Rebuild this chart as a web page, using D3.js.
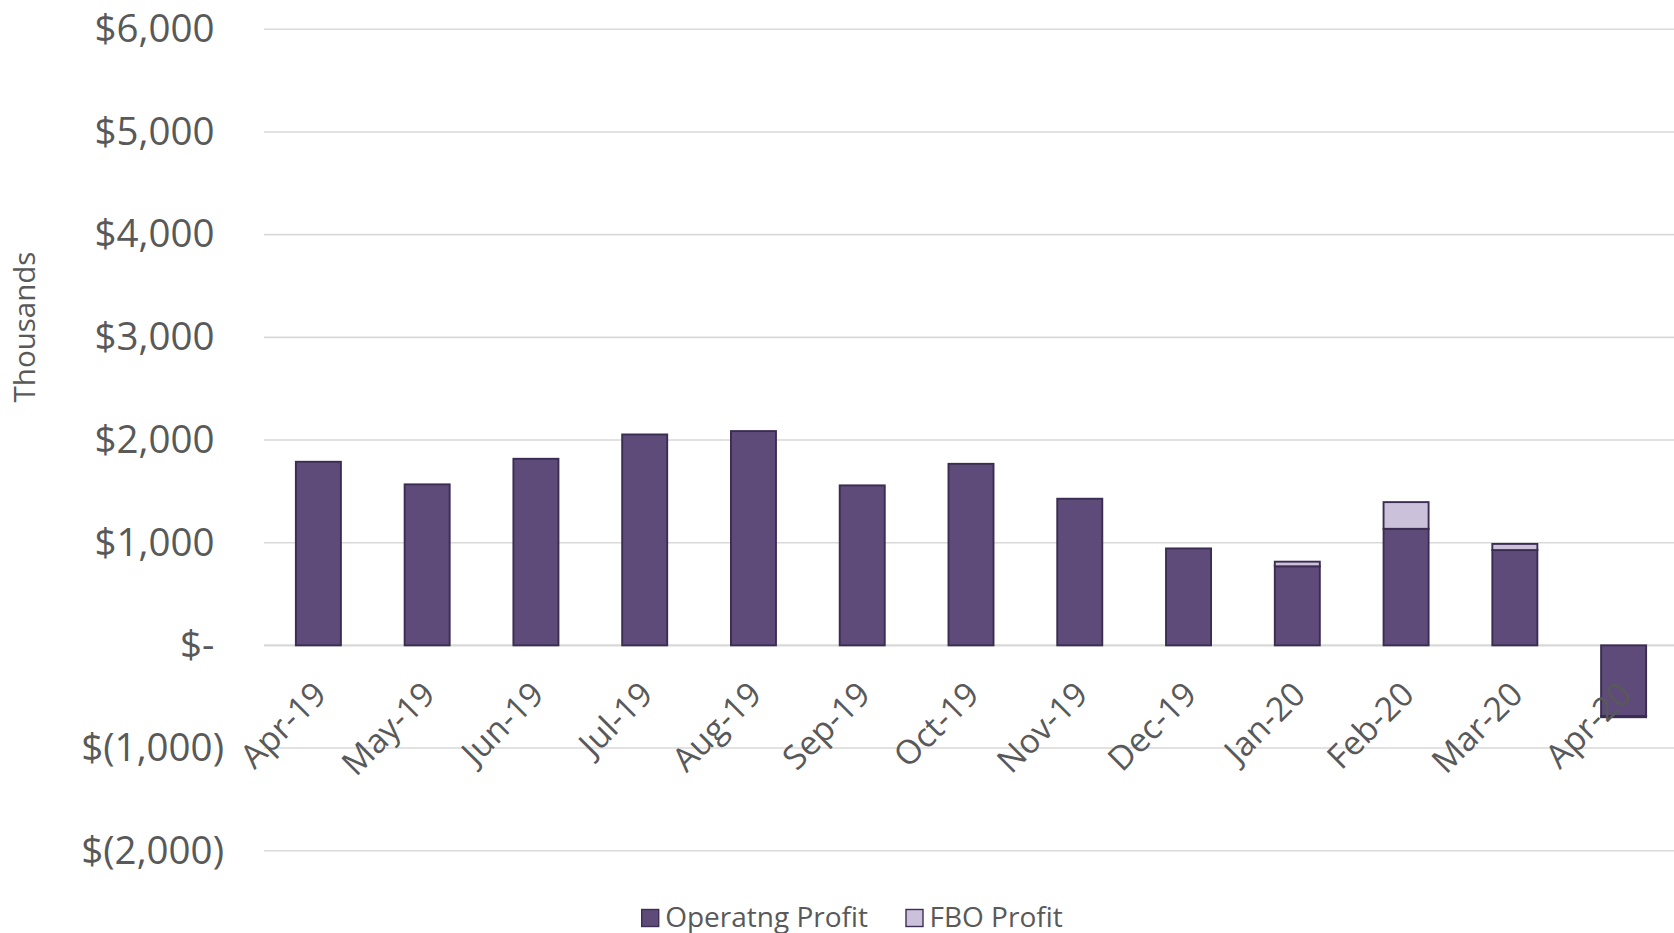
<!DOCTYPE html>
<html>
<head>
<meta charset="utf-8">
<script src="https://cdn.jsdelivr.net/npm/d3@7"></script>
<style>
  html, body { margin: 0; padding: 0; background: #ffffff; }
  svg { display: block; }
  text { font-family: "Open Sans", "Noto Sans", sans-serif; fill: #595959; }
</style>
</head>
<body>
<svg id="chart" width="1674" height="933"></svg>
<script>
// Monthly profit, in thousands of dollars
const months = ["Apr-19", "May-19", "Jun-19", "Jul-19", "Aug-19", "Sep-19", "Oct-19",
                "Nov-19", "Dec-19", "Jan-20", "Feb-20", "Mar-20", "Apr-20"];
const operatingProfit = [1788, 1568, 1817, 2054, 2087, 1558, 1768, 1428, 944, 770, 1135, 928, -688];
const fboProfit       = [0, 0, 0, 0, 0, 0, 0, 0, 0, 45, 260, 60, -12];
const yTicks = [-2000, -1000, 0, 1000, 2000, 3000, 4000, 5000, 6000];
const seriesNames = ["Operatng Profit", "FBO Profit"];
const seriesColors = ["#5E4B7A", "#CBC1DB"];

const svg = d3.select("#chart");
const W = 1674, H = 933;
const plot = { left: 264, right: 1678, top: 29.3, bottom: 850.7 };

const rows = months.map((m, i) => ({ month: m, op: operatingProfit[i], fbo: fboProfit[i] }));
const stacked = d3.stack()
  .keys(["op", "fbo"])
  .offset(d3.stackOffsetDiverging)(rows);

const x = d3.scaleBand()
  .domain(months)
  .range([plot.left, plot.right])
  .paddingInner(0.586)
  .paddingOuter(0.293);

const y = d3.scaleLinear()
  .domain([d3.min(yTicks), d3.max(yTicks)])
  .range([plot.bottom, plot.top]);

// Horizontal gridlines
svg.append("g")
  .selectAll("line")
  .data(yTicks)
  .join("line")
  .attr("x1", plot.left)
  .attr("x2", W)
  .attr("y1", d => y(d))
  .attr("y2", d => y(d))
  .attr("stroke", "#D9D9D9")
  .attr("stroke-width", d => d === 0 ? 2.4 : 1.6);

// Y axis labels in accounting style
const fmt = d3.format(",");
function money(v) {
  if (v === 0) return "$-";
  if (v < 0) return "$(" + fmt(-v) + ")";
  return "$" + fmt(v);
}
const yAxis = d3.axisLeft(y).tickValues(yTicks).tickSize(0).tickFormat(money);
const yg = svg.append("g")
  .attr("transform", `translate(224,0)`)
  .call(yAxis);
yg.select(".domain").remove();
yg.selectAll("text")
  .attr("x", d => d < 0 ? 0 : -9.5)
  .attr("dy", "0.32em")
  .style("font-size", "38.5px")
  .style("font-family", "'Open Sans', sans-serif")
  .attr("fill", "#595959");

// Axis title
svg.append("text")
  .attr("transform", "translate(35,327) rotate(-90)")
  .attr("text-anchor", "middle")
  .style("font-size", "29.5px")
  .text("Thousands");

// Stacked bars
svg.append("g")
  .selectAll("g")
  .data(stacked)
  .join("g")
  .attr("fill", (d, i) => seriesColors[i])
  .selectAll("rect")
  .data(d => d.filter(s => s[1] !== s[0]))
  .join("rect")
  .attr("x", d => x(d.data.month))
  .attr("width", x.bandwidth())
  .attr("y", d => y(Math.max(d[0], d[1])))
  .attr("height", d => Math.abs(y(d[0]) - y(d[1])))
  .attr("stroke", "#3B2D52")
  .attr("stroke-width", 1.9);

// Category labels along the zero line
const xAxis = d3.axisBottom(x).tickSize(0);
const xg = svg.append("g")
  .attr("transform", `translate(0,${y(0)})`)
  .call(xAxis);
xg.select(".domain").remove();
xg.selectAll("text")
  .attr("text-anchor", "end")
  .attr("x", 0)
  .attr("y", 0)
  .attr("dy", 0)
  .attr("transform", "translate(10,51) rotate(-45)")
  .style("font-size", "33.5px")
  .style("font-family", "'Open Sans', sans-serif")
  .attr("fill", "#595959");

// Legend
const legendItems = [
  { name: seriesNames[0], color: seriesColors[0], x: 641.7 },
  { name: seriesNames[1], color: seriesColors[1], x: 906 }
];
const lg = svg.append("g");
legendItems.forEach(it => {
  lg.append("rect")
    .attr("x", it.x)
    .attr("y", 909.5)
    .attr("width", 17)
    .attr("height", 17)
    .attr("fill", it.color)
    .attr("stroke", "#3D2F54")
    .attr("stroke-width", 1.4);
  lg.append("text")
    .attr("x", it.x + 23.5)
    .attr("y", 926.5)
    .style("font-size", "28px")
    .text(it.name);
});
</script>
</body>
</html>
